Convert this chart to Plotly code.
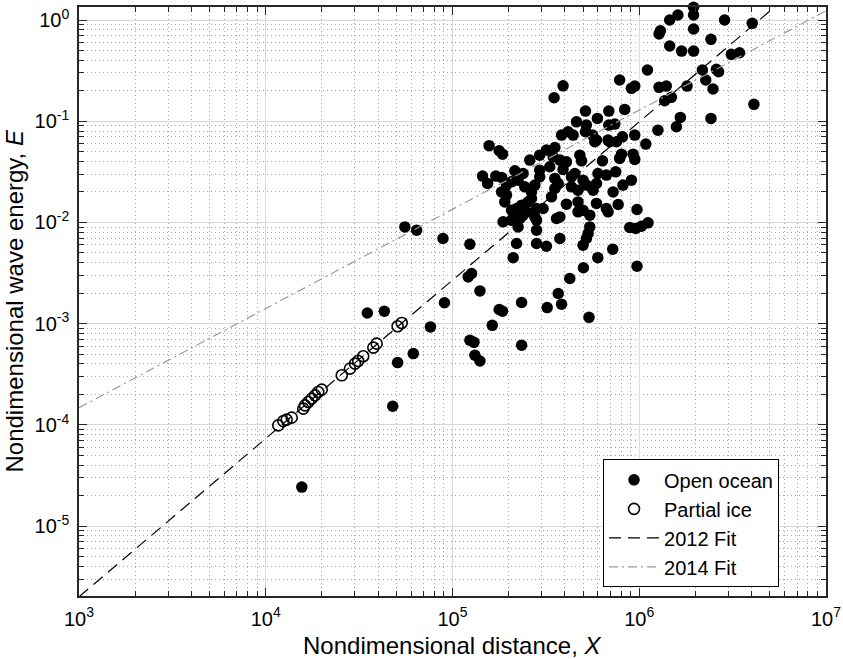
import numpy as np
import plotly.graph_objects as go

# log10 values (X = nondimensional distance, E = nondimensional energy)
ocean_log_x = [
    6.291, 6.291, 6.787, 6.207, 6.163, 6.457, 6.605, 6.113, 6.106, 6.291,
    6.384, 6.163, 6.227, 6.291, 6.493, 6.537, 6.044, 6.338, 6.425, 6.413,
    6.356, 6.395, 6.256, 5.895, 5.958, 5.976, 6.106, 6.145, 6.136, 6.172,
    5.922, 6.614, 6.220, 6.199, 6.384, 6.100, 5.976, 5.910, 6.035,
    5.592, 5.544, 5.712, 5.837, 5.776, 5.664, 5.717, 5.837, 5.869, 5.619,
    5.584, 5.646, 5.712, 5.750, 5.771, 5.833,
    5.196, 5.250, 5.268, 5.161, 5.188, 5.232, 5.263, 5.334, 5.414, 5.467,
    5.503, 5.548, 5.539, 5.575, 5.610, 5.682, 5.691, 5.762, 5.878, 5.842,
    5.803, 5.467, 5.521, 5.467, 5.592, 5.548, 5.566, 5.548, 5.637, 5.655,
    5.637, 5.699, 5.717, 5.779, 5.824, 5.771, 5.753, 5.672, 5.289, 5.316,
    5.351, 5.378, 5.263, 5.289, 5.280, 5.387, 5.423, 5.441, 5.423, 5.405,
    5.370, 5.343, 5.316, 5.450, 5.485, 5.441, 5.450, 5.530, 5.610, 5.672,
    5.672, 5.699, 5.735, 5.771, 5.824, 5.833, 5.334, 5.316, 5.271, 5.361,
    5.378, 5.396, 5.575, 5.557, 5.351, 5.450, 5.735, 5.726, 5.717, 5.699,
    5.575, 5.343, 5.450, 5.503, 5.093, 4.949, 5.325, 5.858, 5.778, 5.701,
    5.905, 5.967, 5.976, 5.895, 5.874, 5.958, 5.913, 5.860, 5.887, 5.988,
    5.949, 5.981, 6.012, 6.047, 5.988,
    4.745, 4.808, 4.544, 4.635, 4.957, 4.882, 5.084, 5.102, 5.147, 5.370,
    5.250, 5.268, 5.213, 5.093, 5.115, 5.370, 5.507, 5.566, 5.584, 5.628,
    5.731, 5.120, 5.147, 4.706, 4.790, 4.680, 4.193,
]
ocean_log_e = [
    0.126, 0.049, 0.138, 0.049, 0.000, 0.000, -0.033, -0.106, -0.138, -0.089,
    -0.191, -0.257, -0.307, -0.307, -0.339, -0.323, -0.494, -0.494, -0.511, -0.487,
    -0.593, -0.682, -0.653, -0.593, -0.675, -0.653, -0.665, -0.653, -0.798, -0.764,
    -0.883, -0.833, -0.962, -1.055, -0.972, -1.088, -1.137, -1.154, -1.226,
    -0.650, -0.768, -0.900, -0.900, -0.972, -1.006, -1.038, -1.038, -1.028, -1.104,
    -1.137, -1.137, -1.104, -1.137, -1.186, -1.186,
    -1.241, -1.292, -1.325, -1.542, -1.615, -1.542, -1.555, -1.490, -1.384, -1.335,
    -1.285, -1.259, -1.352, -1.384, -1.401, -1.335, -1.391, -1.203, -1.203, -1.203,
    -1.391, -1.483, -1.450, -1.549, -1.476, -1.565, -1.615, -1.664, -1.549, -1.516,
    -1.648, -1.582, -1.631, -1.516, -1.532, -1.615, -1.681, -1.681, -1.631, -1.599,
    -1.582, -1.516, -1.698, -1.730, -1.797, -1.648, -1.698, -1.631, -1.763, -1.797,
    -1.829, -1.862, -1.879, -1.862, -1.862, -1.945, -1.977, -1.747, -1.819, -1.797,
    -1.895, -1.879, -1.928, -1.812, -1.862, -1.895, -1.945, -1.977, -1.994, -1.961,
    -1.928, -1.895, -1.945, -1.961, -2.044, -2.076, -2.044, -2.109, -2.158, -2.225,
    -2.158, -2.208, -2.208, -2.235, -2.215, -2.158, -2.348, -2.264, -2.348, -2.447,
    -1.325, -1.325, -1.377, -1.367, -1.500, -1.582, -1.631, -1.698, -1.822, -1.872,
    -2.050, -2.060, -2.037, -2.004, -2.432,
    -2.044, -2.076, -2.894, -2.877, -2.793, -3.032, -2.538, -2.504, -2.676, -2.791,
    -2.860, -2.877, -3.016, -3.164, -3.184, -3.213, -2.841, -2.702, -2.808, -2.554,
    -2.937, -3.312, -3.369, -3.384, -3.295, -3.816, -4.614,
]

ice_log_x = [
    4.728, 4.706, 4.594, 4.576, 4.522, 4.495, 4.478, 4.451, 4.407, 4.300,
    4.281, 4.264, 4.246, 4.228, 4.210, 4.201, 4.139, 4.112, 4.094, 4.067,
]
ice_log_e = [
    -2.993, -3.025, -3.197, -3.236, -3.322, -3.369, -3.394, -3.444, -3.510, -3.651,
    -3.675, -3.708, -3.740, -3.774, -3.807, -3.839, -3.928, -3.948, -3.962, -4.004,
]

# power-law fits  E = a * X^b
fit2012_a, fit2012_b = 10 ** -10.39, 1.564
fit2014_a, fit2014_b = 10 ** -6.77, 0.98

x_ticks = [1e3, 1e4, 1e5, 1e6, 1e7]
x_ticktext = ["10<sup>3</sup>", "10<sup>4</sup>", "10<sup>5</sup>", "10<sup>6</sup>", "10<sup>7</sup>"]
y_ticks = [1e-5, 1e-4, 1e-3, 1e-2, 1e-1, 1e0]
y_ticktext = ["10<sup>-5</sup>", "10<sup>-4</sup>", "10<sup>-3</sup>",
              "10<sup>-2</sup>", "10<sup>-1</sup>", "10<sup>0</sup>"]

ocean_x = 10 ** np.array(ocean_log_x)
ocean_e = 10 ** np.array(ocean_log_e)
ice_x = 10 ** np.array(ice_log_x)
ice_e = 10 ** np.array(ice_log_e)
x_fit = np.logspace(3, 7, 60)

fig = go.Figure()

fig.add_trace(go.Scatter(
    x=ocean_x, y=ocean_e, mode="markers", name="Open ocean",
    marker=dict(symbol="circle", size=11.5, color="black", line=dict(width=0)),
    cliponaxis=False,
))
fig.add_trace(go.Scatter(
    x=ice_x, y=ice_e, mode="markers", name="Partial ice",
    marker=dict(symbol="circle-open", size=11, color="black", line=dict(width=1.6)),
    cliponaxis=False,
))
fig.add_trace(go.Scatter(
    x=x_fit, y=fit2012_a * x_fit ** fit2012_b, mode="lines", name="2012 Fit",
    line=dict(color="black", width=1.2, dash="12px,7px"),
))
fig.add_trace(go.Scatter(
    x=x_fit, y=fit2014_a * x_fit ** fit2014_b, mode="lines", name="2014 Fit",
    line=dict(color="#9a9a9a", width=1.2, dash="9px,4px,2px,4px"),
))

font_family = "Liberation Sans, Arial, Helvetica, sans-serif"
axis_common = dict(
    type="log", automargin=False, ticklabeloverflow="allow",
    showline=True, linecolor="#262626", linewidth=1.5, mirror="ticks",
    ticks="inside", ticklen=8, tickwidth=1, tickcolor="#262626",
    showgrid=True, gridcolor="#d9d9d9", gridwidth=1,
    zeroline=False,
    tickfont=dict(size=20, color="black"),
    minor=dict(dtick="D1", ticks="inside", ticklen=5, tickcolor="#262626",
               showgrid=True, gridcolor="#a8a8a8", griddash="1px,3px", gridwidth=1),
)

fig.update_layout(
    width=843, height=659,
    margin=dict(l=79, r=17, t=7, b=63),
    paper_bgcolor="white", plot_bgcolor="white",
    font=dict(family=font_family, color="black", size=18),
    showlegend=True,
    legend=dict(
        x=0.7015, y=0.232, xanchor="left", yanchor="top",
        bgcolor="white", bordercolor="black", borderwidth=1,
        font=dict(size=20), itemwidth=50, tracegroupgap=0,
    ),
    xaxis=dict(axis_common, range=[3, 7], tickvals=x_ticks, ticktext=x_ticktext,
               ticklabelstandoff=4),
    yaxis=dict(axis_common, range=[-5.69, 0.1285], tickvals=y_ticks, ticktext=y_ticktext,
               ticklabelstandoff=4),
    annotations=[
        dict(text="Nondimensional distance, <i>X</i>", xref="paper", yref="paper",
             x=0.5, y=-0.0832, xanchor="center", yanchor="middle",
             showarrow=False, font=dict(size=24)),
        dict(text="Nondimensional wave energy, <i>E</i>", xref="paper", yref="paper",
             x=-0.087, y=0.5, xanchor="center", yanchor="middle", textangle=-90,
             showarrow=False, font=dict(size=24)),
    ],
)

# drop the browser's default 8px page margin so the figure fills the window
fig.write_html(
    "out.html",
    config={"displayModeBar": False},
    post_script="document.body.style.margin='0';document.body.style.overflow='hidden';",
)
